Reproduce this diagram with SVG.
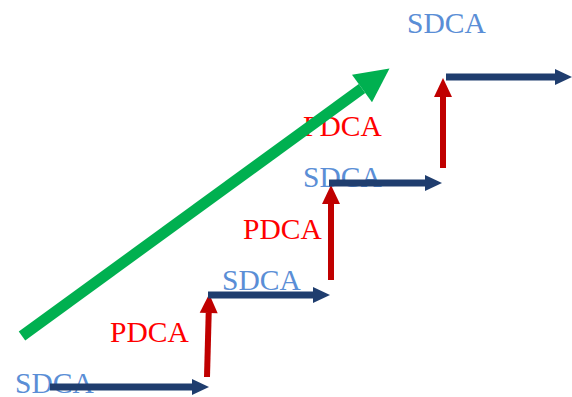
<svg xmlns="http://www.w3.org/2000/svg" width="572" height="397" viewBox="0 0 572 397">
  <style>
    .lbl { font-family: "Liberation Serif", "Times New Roman", serif; font-size: 29.5px; }
    .sdca { fill: #5A8ED6; }
    .pdca { fill: #FF0000; }
    .blue { stroke: #1F3D6E; stroke-width: 7; fill: none; }
    .red { stroke: #C00000; stroke-width: 6; fill: none; }
    .green { stroke: #00B050; stroke-width: 11; fill: none; }
  </style>
  <defs>
    <marker id="headBlue" markerUnits="userSpaceOnUse" viewBox="0 -10 20 20" markerWidth="20" markerHeight="20" refX="0" refY="0" orient="auto" overflow="visible">
      <path d="M0,-8 L17,0 L0,8 z" fill="#1F3D6E"/>
    </marker>
    <marker id="headRed" markerUnits="userSpaceOnUse" viewBox="0 -10 20 20" markerWidth="20" markerHeight="20" refX="0" refY="0" orient="auto" overflow="visible">
      <path d="M0,-9 L19,0 L0,9 z" fill="#C00000"/>
    </marker>
    <marker id="headGreen" markerUnits="userSpaceOnUse" viewBox="0 -20 40 40" markerWidth="40" markerHeight="40" refX="0" refY="0" orient="auto" overflow="visible">
      <path d="M0,-17 L34,0 L0,17 z" fill="#00B050"/>
    </marker>
  </defs>

  <!-- labels -->
  <g id="sdca-1"><text class="lbl sdca" x="15" y="393">SDCA</text></g>
  <g id="pdca-1"><text class="lbl pdca" x="110" y="342">PDCA</text></g>
  <g id="sdca-2"><text class="lbl sdca" x="222" y="290">SDCA</text></g>
  <g id="pdca-2"><text class="lbl pdca" x="243" y="239">PDCA</text></g>
  <g id="sdca-3"><text class="lbl sdca" x="303" y="187">SDCA</text></g>
  <g id="pdca-3"><text class="lbl pdca" x="303" y="136">PDCA</text></g>
  <g id="sdca-4"><text class="lbl sdca" x="407" y="33">SDCA</text></g>

  <g id="connectors">
    <!-- improvement trend -->
    <path class="green" d="M22,336 L362,88.5" marker-end="url(#headGreen)"/>
    <!-- PDCA steps (up) -->
    <path class="red" d="M207,377 L208.7,313" marker-end="url(#headRed)"/>
    <path class="red" d="M331,280 L331,204" marker-end="url(#headRed)"/>
    <path class="red" d="M443,168 L443,97" marker-end="url(#headRed)"/>
    <!-- SDCA runs (flat) -->
    <path class="blue" d="M50,387 L192,387" marker-end="url(#headBlue)"/>
    <path class="blue" d="M208,295 L313,295" marker-end="url(#headBlue)"/>
    <path class="blue" d="M329,183 L425,183" marker-end="url(#headBlue)"/>
    <path class="blue" d="M446,77 L555,77" marker-end="url(#headBlue)"/>
  </g>
</svg>
